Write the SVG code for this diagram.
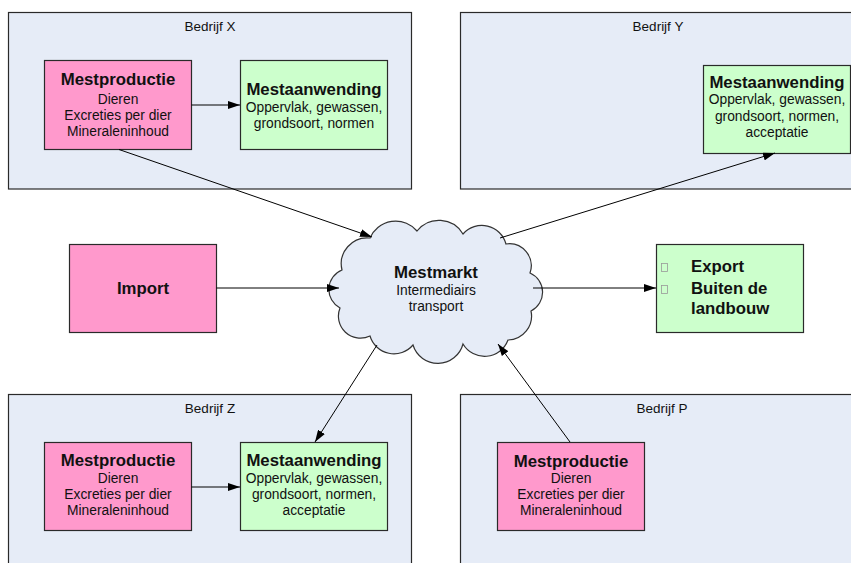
<svg xmlns="http://www.w3.org/2000/svg" width="851" height="563" viewBox="0 0 851 563">
  <defs>
    <marker id="arrow" viewBox="0 0 12 8" refX="12" refY="4" markerWidth="12" markerHeight="8" markerUnits="userSpaceOnUse" orient="auto">
      <path d="M0,0 L12,4 L0,8 Z" fill="#000"/>
    </marker>
    <style>
      .bedrijf { fill: #E6ECF7; stroke: #2a2a2a; stroke-width: 1.2; }
      .prod { fill: #FF99CC; stroke: #2a2a2a; stroke-width: 1.2; }
      .toep { fill: #CCFFCC; stroke: #2a2a2a; stroke-width: 1.2; }
      .cloud { fill: #E6ECF7; stroke: #333; stroke-width: 1.2; }
      .lbl { font-family: "Liberation Sans", Arial, sans-serif; font-size: 13.5px; fill: #111; text-anchor: middle; }
      .title { font-family: "Liberation Sans", Arial, sans-serif; font-size: 16.8px; font-weight: bold; fill: #111; text-anchor: middle; }
      .body { font-family: "Liberation Sans", Arial, sans-serif; font-size: 13.8px; fill: #111; text-anchor: middle; }
      .big { font-family: "Liberation Sans", Arial, sans-serif; font-size: 16.8px; font-weight: bold; fill: #111; }
      .conn { stroke: #000; stroke-width: 1; fill: none; marker-end: url(#arrow); }
      .bullet { fill: none; stroke: #9a9a9a; stroke-width: 0.8; }
    </style>
  </defs>

  <rect width="851" height="563" fill="#fff"/>

  <!-- company containers -->
  <g id="bedrijf-x">
    <rect class="bedrijf" x="8.5" y="12.5" width="403" height="176.5"/>
    <text class="lbl" x="210" y="31">Bedrijf X</text>
  </g>
  <g id="bedrijf-y">
    <rect class="bedrijf" x="460.5" y="12.5" width="400" height="176.5"/>
    <text class="lbl" x="658" y="31">Bedrijf Y</text>
  </g>
  <g id="bedrijf-z">
    <rect class="bedrijf" x="8.5" y="394.5" width="403" height="180"/>
    <text class="lbl" x="210" y="413">Bedrijf Z</text>
  </g>
  <g id="bedrijf-p">
    <rect class="bedrijf" x="460.5" y="394.5" width="404" height="180"/>
    <text class="lbl" x="662" y="413">Bedrijf P</text>
  </g>

  <!-- Bedrijf X nodes -->
  <g id="x-mestproductie">
    <rect class="prod" x="44.5" y="60.5" width="147" height="89"/>
    <text class="title" x="118" y="85">Mestproductie</text>
    <text class="body" x="118" y="103.5">Dieren</text>
    <text class="body" x="118" y="119.5">Excreties per dier</text>
    <text class="body" x="118" y="135.5">Mineraleninhoud</text>
  </g>
  <g id="x-mestaanwending">
    <rect class="toep" x="240.5" y="60.5" width="147" height="89"/>
    <text class="title" x="314" y="95">Mestaanwending</text>
    <text class="body" x="314" y="111.5">Oppervlak, gewassen,</text>
    <text class="body" x="314" y="127.5">grondsoort, normen</text>
  </g>

  <!-- Bedrijf Y node -->
  <g id="y-mestaanwending">
    <rect class="toep" x="703.5" y="65.5" width="147" height="88"/>
    <text class="title" x="777" y="88">Mestaanwending</text>
    <text class="body" x="777" y="104">Oppervlak, gewassen,</text>
    <text class="body" x="777" y="120.5">grondsoort, normen,</text>
    <text class="body" x="777" y="137">acceptatie</text>
  </g>

  <!-- Import / Export -->
  <g id="import">
    <rect class="prod" x="69.5" y="244.5" width="147" height="88"/>
    <text class="big" x="143" y="294" text-anchor="middle">Import</text>
  </g>
  <g id="export">
    <rect class="toep" x="656.5" y="244.5" width="147" height="88"/>
    <rect class="bullet" x="661.5" y="263.5" width="6" height="8"/>
    <rect class="bullet" x="661.5" y="285.5" width="6" height="8"/>
    <text class="big" x="691" y="272">Export</text>
    <text class="big" x="691" y="294">Buiten de</text>
    <text class="big" x="691" y="314">landbouw</text>
  </g>

  <!-- market cloud -->
  <g id="mestmarkt">
    <path class="cloud" d="M342,270
      A26,26 0 0 1 370,238
      A28,28 0 0 1 417,231
      A28,28 0 0 1 463,234
      A25,25 0 0 1 506,244
      A22,22 0 0 1 530,273
      A21,21 0 0 1 531,311
      A24,24 0 0 1 508,340
      A25,25 0 0 1 463,344
      A26,26 0 0 1 413,345
      A25,25 0 0 1 370,336
      A22,22 0 0 1 340,308
      A21,21 0 0 1 342,270 Z"/>
    <text class="title" x="436" y="278">Mestmarkt</text>
    <text class="body" x="436" y="295">Intermediairs</text>
    <text class="body" x="436" y="311">transport</text>
  </g>

  <!-- Bedrijf Z nodes -->
  <g id="z-mestproductie">
    <rect class="prod" x="44.5" y="442.5" width="147" height="88"/>
    <text class="title" x="118" y="466">Mestproductie</text>
    <text class="body" x="118" y="483">Dieren</text>
    <text class="body" x="118" y="499">Excreties per dier</text>
    <text class="body" x="118" y="515">Mineraleninhoud</text>
  </g>
  <g id="z-mestaanwending">
    <rect class="toep" x="240.5" y="442.5" width="147" height="88"/>
    <text class="title" x="314" y="466">Mestaanwending</text>
    <text class="body" x="314" y="483">Oppervlak, gewassen,</text>
    <text class="body" x="314" y="499">grondsoort, normen,</text>
    <text class="body" x="314" y="515">acceptatie</text>
  </g>

  <!-- Bedrijf P node -->
  <g id="p-mestproductie">
    <rect class="prod" x="497.5" y="442.5" width="147" height="88"/>
    <text class="title" x="571" y="467">Mestproductie</text>
    <text class="body" x="571" y="483">Dieren</text>
    <text class="body" x="571" y="499">Excreties per dier</text>
    <text class="body" x="571" y="515">Mineraleninhoud</text>
  </g>

  <!-- connectors -->
  <g id="connectors">
    <line class="conn" x1="191.5" y1="105" x2="240" y2="105"/>
    <line class="conn" x1="191.5" y1="487" x2="240" y2="487"/>
    <line class="conn" x1="119" y1="149.5" x2="372" y2="237"/>
    <line class="conn" x1="500" y1="238" x2="775" y2="153"/>
    <line class="conn" x1="216.5" y1="288" x2="339" y2="288"/>
    <line class="conn" x1="533" y1="288" x2="656" y2="288"/>
    <line class="conn" x1="377" y1="345" x2="315" y2="442"/>
    <line class="conn" x1="570" y1="442" x2="498" y2="344"/>
  </g>
</svg>
